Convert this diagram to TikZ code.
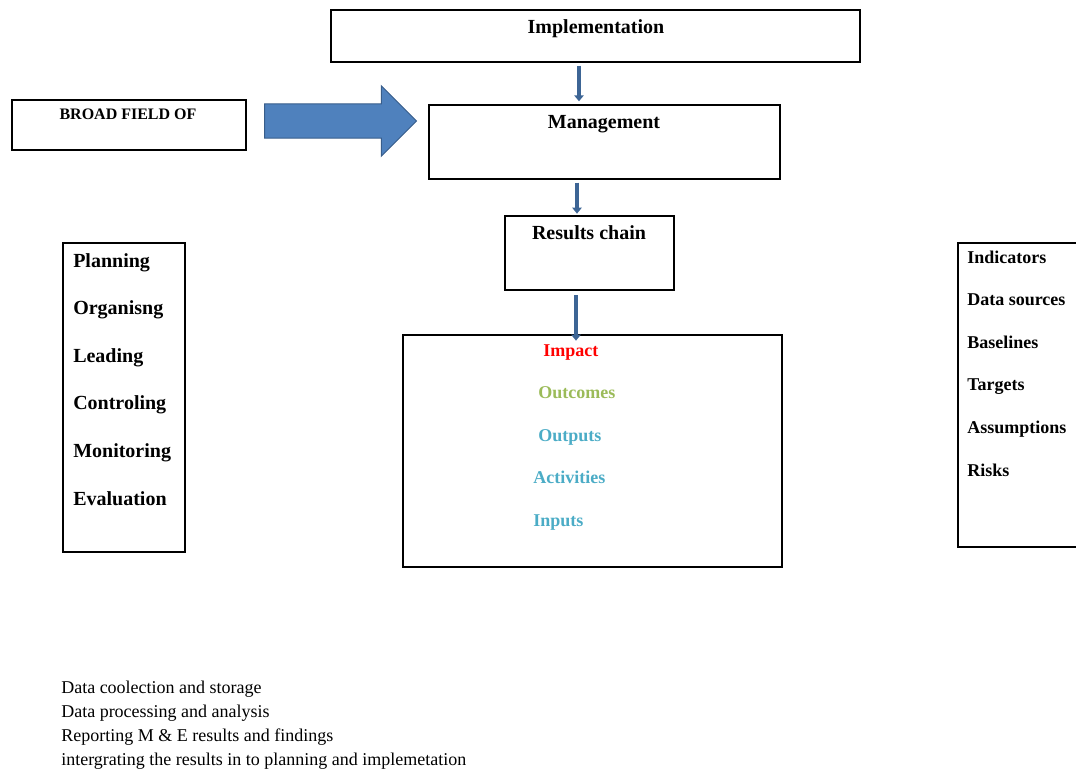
\documentclass[tikz,border=0pt]{standalone}
\usepackage{fontspec}
\setmainfont{Liberation Serif}
\usetikzlibrary{shapes.arrows, arrows.meta, positioning, fit}

\definecolor{arrowblue}{HTML}{4F81BD}
\definecolor{arrowedge}{HTML}{385D8A}
\definecolor{flowblue}{HTML}{3D6595}
\definecolor{outgreen}{HTML}{9BBB59}
\definecolor{outcyan}{HTML}{4BACC6}

\begin{document}
\begin{tikzpicture}[x=0.75pt, y=-0.75pt,
  box/.style={draw, line width=1.5pt, inner sep=0pt},
  head/.style={font=\fontsize{15}{18}\selectfont\bfseries, inner sep=0pt, anchor=base},
  item/.style={font=\fontsize{15}{18}\selectfont\bfseries, inner sep=0pt, anchor=base west},
  ind/.style={font=\fontsize{13.5}{16}\selectfont\bfseries, inner sep=0pt, anchor=base west},
  note/.style={font=\fontsize{13.5}{16}\selectfont, inner sep=0pt, anchor=base west},
  flow/.style={draw=flowblue, line width=3pt, -{Triangle[width=7pt,length=4.5pt]}}]
\useasboundingbox (0,0) rectangle (1076,771);

% Boxes
\node[box, fit={(331,10) (860,62)}] (impl) {};
\node[box, fit={(429,105) (780,179)}] (mgmt) {};
\node[box, fit={(505,216) (674,290)}] (rc) {};
\node[box, fit={(403,335) (782,567)}] (res) {};
\node[box, fit={(12,100) (246,150)}] (broad) {};
\node[box, fit={(63,243) (185,552)}] (mgmtfun) {};
\node[box, fit={(958,243) (1090,547)}] (meframe) {};

% Big arrow
\node[single arrow, draw=arrowedge, fill=arrowblue, line width=0.75pt,
      inner xsep=0pt, inner ysep=12.5pt, minimum height=114pt,
      single arrow head extend=13.5pt, anchor=tail] (bigarrow) at (264,121) {};

% Headings
\node[head] (impltxt) at (596,33.5) {Implementation};
\node[head] (mgmttxt) at (604,128) {Management};
\node[head] (rctxt) at (589,239) {Results chain};
\node[font=\fontsize{12}{14}\selectfont\bfseries, inner sep=0pt, anchor=base] (broadtxt) at (128,119) {BROAD FIELD OF};

% Arrows
\draw[flow, shorten <=2pt, shorten >=2pt] (impl.south -| 579,0) -- (mgmt.north -| 579,0);
\draw[flow, shorten <=2pt, shorten >=1pt] (mgmt.south -| 577,0) -- (rc.north -| 577,0);
\draw[flow, shorten <=3pt, shorten >=-5pt] (rc.south -| 576,0) -- (res.north -| 576,0);

% Management functions
\node[item] (plan) at (73,267) {Planning};
\node[item] (org) at (73,314.6) {Organisng};
\node[item] (lead) at (73,362.2) {Leading};
\node[item] (ctrl) at (73,409.8) {Controling};
\node[item] (mon) at (73,457.4) {Monitoring};
\node[item] (eval) at (73,505) {Evaluation};

% Results chain levels
\node[ind, text=red] (impact) at (543,356) {Impact};
\node[ind, text=outgreen] (outcomes) at (538,398) {Outcomes};
\node[ind, text=outcyan] (outputs) at (538,441) {Outputs};
\node[ind, text=outcyan] (activities) at (533,483) {Activities};
\node[ind, text=outcyan] (inputs) at (533,526) {Inputs};

% Framework columns
\node[ind] (indic) at (967,263) {Indicators};
\node[ind] (sources) at (967,305.6) {Data sources};
\node[ind] (base) at (967,348.2) {Baselines};
\node[ind] (targets) at (967,390.8) {Targets};
\node[ind] (assum) at (967,433.4) {Assumptions};
\node[ind] (risks) at (967,476) {Risks};

% Notes below
\node[note] (note1) at (61,693) {Data coolection and storage};
\node[note] (note2) at (61,717) {Data processing and analysis};
\node[note] (note3) at (61,741) {Reporting M \& E results and findings};
\node[note] (note4) at (61,765) {intergrating the results in to planning and implemetation};
\end{tikzpicture}
\end{document}
